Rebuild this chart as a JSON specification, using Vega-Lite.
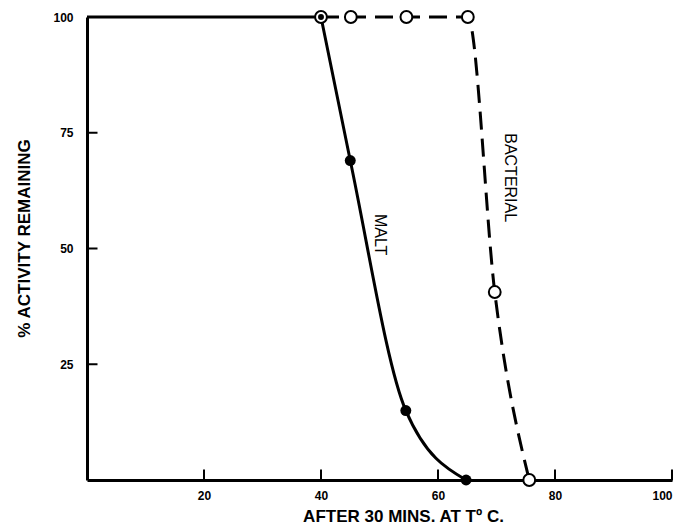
{
  "$schema": "https://vega.github.io/schema/vega-lite/v6.json",
  "width": 585,
  "height": 463,
  "autosize": "none",
  "padding": {"left": 87, "top": 17, "right": 13, "bottom": 49},
  "background": "white",
  "config": {
    "view": {"stroke": null},
    "font": "Liberation Sans",
    "axis": {"grid": false, "domainColor": "black", "domainWidth": 3, "ticks": false, "tickSize": 0, "labelColor": "black", "titleColor": "black"}
  },
  "datasets": {
    "curves": [
      {"series": "BASE", "x": 0, "y": 100},
      {"series": "BASE", "x": 40, "y": 100},
      {"series": "MALT", "x": 40, "y": 100},
      {"series": "MALT", "x": 45, "y": 69},
      {"series": "MALT", "x": 54.5, "y": 15},
      {"series": "MALT", "x": 64.8, "y": 0},
      {"series": "BACTERIAL", "x": 40, "y": 100},
      {"series": "BACTERIAL", "x": 45.1, "y": 100},
      {"series": "BACTERIAL", "x": 54.6, "y": 100},
      {"series": "BACTERIAL", "x": 65.1, "y": 100},
      {"series": "BACTERIAL", "x": 69.7, "y": 40.6},
      {"series": "BACTERIAL", "x": 75.6, "y": 0}
    ],
    "labels": [
      {"label": "MALT", "x": 50.1, "y": 53},
      {"label": "BACTERIAL", "x": 72.3, "y": 65.3}
    ],
    "axisticks": [
      {"axis": "x", "x": 20, "y": 0}, {"axis": "x", "x": 40, "y": 0}, {"axis": "x", "x": 60, "y": 0}, {"axis": "x", "x": 80, "y": 0}, {"axis": "x", "x": 100, "y": 0},
      {"axis": "y", "x": 0, "y": 25}, {"axis": "y", "x": 0, "y": 50}, {"axis": "y", "x": 0, "y": 75}
    ]
  },
  "layer": [
    {
      "data": {"name": "curves"},
      "transform": [{"filter": "datum.series == 'BASE'"}],
      "mark": {"type": "line", "color": "black", "strokeWidth": 3},
      "encoding": {
        "x": {"field": "x", "type": "quantitative", "scale": {"domain": [0, 100], "nice": false},
          "axis": {"values": [20, 40, 60, 80, 100], "title": "AFTER 30 MINS. AT T\u00ba C.", "labelPadding": 10, "labelFontSize": 12, "labelFontWeight": "bold", "titleFontSize": 17, "titleFontWeight": "bold", "titlePadding": 7, "titleX": 316}},
        "y": {"field": "y", "type": "quantitative", "scale": {"domain": [0, 100], "nice": false},
          "axis": {"values": [25, 50, 75, 100], "title": "% ACTIVITY REMAINING", "labelPadding": 14, "labelFontSize": 12, "labelFontWeight": "bold", "titleFontSize": 17, "titleFontWeight": "bold", "titlePadding": 19, "titleY": 221}}
      }
    },
    {
      "data": {"name": "axisticks"},
      "transform": [{"filter": "datum.axis == 'x'"}],
      "mark": {"type": "tick", "color": "black", "orient": "vertical", "thickness": 2, "size": 11, "yOffset": -5, "opacity": 1},
      "encoding": {"x": {"field": "x", "type": "quantitative"}, "y": {"field": "y", "type": "quantitative"}}
    },
    {
      "data": {"name": "axisticks"},
      "transform": [{"filter": "datum.axis == 'y'"}],
      "mark": {"type": "tick", "color": "black", "orient": "horizontal", "thickness": 2, "size": 11, "xOffset": 5, "opacity": 1},
      "encoding": {"x": {"field": "x", "type": "quantitative"}, "y": {"field": "y", "type": "quantitative"}}
    },
    {
      "data": {"name": "curves"},
      "transform": [{"filter": "datum.series == 'MALT'"}],
      "mark": {"type": "line", "color": "black", "strokeWidth": 3, "interpolate": "monotone"},
      "encoding": {"x": {"field": "x", "type": "quantitative"}, "y": {"field": "y", "type": "quantitative"}}
    },
    {
      "data": {"name": "curves"},
      "transform": [{"filter": "datum.series == 'BACTERIAL'"}],
      "mark": {"type": "line", "color": "black", "strokeWidth": 3, "interpolate": "monotone", "strokeDash": [18, 9]},
      "encoding": {"x": {"field": "x", "type": "quantitative"}, "y": {"field": "y", "type": "quantitative"}}
    },
    {
      "data": {"name": "curves"},
      "transform": [{"filter": "datum.series == 'BACTERIAL'"}],
      "mark": {"type": "point", "shape": "circle", "filled": false, "fill": "white", "fillOpacity": 1, "stroke": "black", "strokeWidth": 2, "size": 140, "opacity": 1},
      "encoding": {"x": {"field": "x", "type": "quantitative"}, "y": {"field": "y", "type": "quantitative"}}
    },
    {
      "data": {"name": "curves"},
      "transform": [{"filter": "datum.series == 'MALT'"}],
      "mark": {"type": "point", "shape": "circle", "filled": true, "color": "black", "opacity": 1},
      "encoding": {"x": {"field": "x", "type": "quantitative"}, "y": {"field": "y", "type": "quantitative"},
        "size": {"condition": {"test": "datum.x == 40", "value": 35}, "value": 120}}
    },
    {
      "data": {"name": "labels"},
      "mark": {"type": "text", "angle": 90, "fontSize": 16, "color": "black", "align": "center", "baseline": "middle"},
      "encoding": {"x": {"field": "x", "type": "quantitative"}, "y": {"field": "y", "type": "quantitative"}, "text": {"field": "label"}}
    }
  ]
}
